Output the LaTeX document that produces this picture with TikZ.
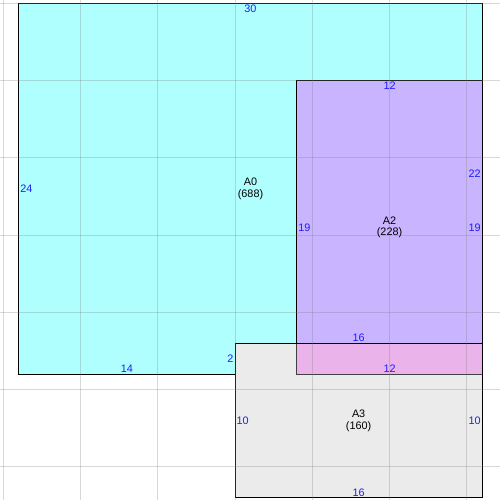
\documentclass[tikz,border=0pt]{standalone}
\usepackage{fontspec}
\setmainfont{Liberation Sans}
\definecolor{cyanA}{RGB}{176,255,255}
\definecolor{purpA}{RGB}{200,180,255}
\definecolor{grayA}{RGB}{235,235,235}
\definecolor{pinkA}{RGB}{234,180,234}
\definecolor{lblA}{RGB}{30,30,255}
\tikzset{
  region/.style={draw=black, line width=0.9pt},
  gridline/.style={draw=gray, opacity=0.3, line width=0.8pt},
  dimlbl/.style={text=lblA, font=\fontsize{10}{11}\selectfont, inner sep=1.2pt},
  regionname/.style={font=\fontsize{10}{11}\selectfont, align=center, inner sep=0pt}
}
\begin{document}
\begin{tikzpicture}[x=0.5cm, y=-0.5cm]
\useasboundingbox[fill=white] (-0.214,-0.214) rectangle (32.15,32.15);
% regions
\path[region, fill=cyanA] (1,0) rectangle (31,24);
\path[region, fill=purpA] (19,5) rectangle (31,24);
\path[region, fill=grayA] (15,22) rectangle (31,32);
\fill[pinkA] (19,22) rectangle (31,24);
\draw[line width=0.9pt, draw=black!75] (19,22) -- (19,24) -- (31,24);
\draw[line width=0.9pt] (15,22) -- (31,22) -- (31,32);
% grid
\foreach \v in {0,5,...,30} {
  \path[gridline] (\v,-0.214) -- (\v,32.15);
  \path[gridline] (-0.214,\v) -- (32.15,\v);
}
% names
\node[regionname] (a0) at (16,12) {A0\\(688)};
\node[regionname] (a2) at (25,14.5) {A2\\(228)};
\node[regionname] (a3) at (23,27) {A3\\(160)};
% dimensions
\node[dimlbl, anchor=north] (d30) at (16,0) {30};
\node[dimlbl, anchor=west] (d24) at (1,12) {24};
\node[dimlbl, anchor=south] (d14) at (8,24) {14};
\node[dimlbl, anchor=east] (d2) at (15,23) {2};
\node[dimlbl, anchor=east] (d22) at (31,11) {22};
\node[dimlbl, anchor=north] (d12t) at (25,5) {12};
\node[dimlbl, anchor=west] (d19l) at (19,14.5) {19};
\node[dimlbl, anchor=east] (d19r) at (31,14.5) {19};
\node[dimlbl, anchor=south] (d12b) at (25,24) {12};
\node[dimlbl, anchor=south] (d16t) at (23,22) {16};
\node[dimlbl, anchor=west] (d10l) at (15,27) {10};
\node[dimlbl, anchor=east] (d10r) at (31,27) {10};
\node[dimlbl, anchor=south] (d16b) at (23,32) {16};
\end{tikzpicture}
\end{document}
